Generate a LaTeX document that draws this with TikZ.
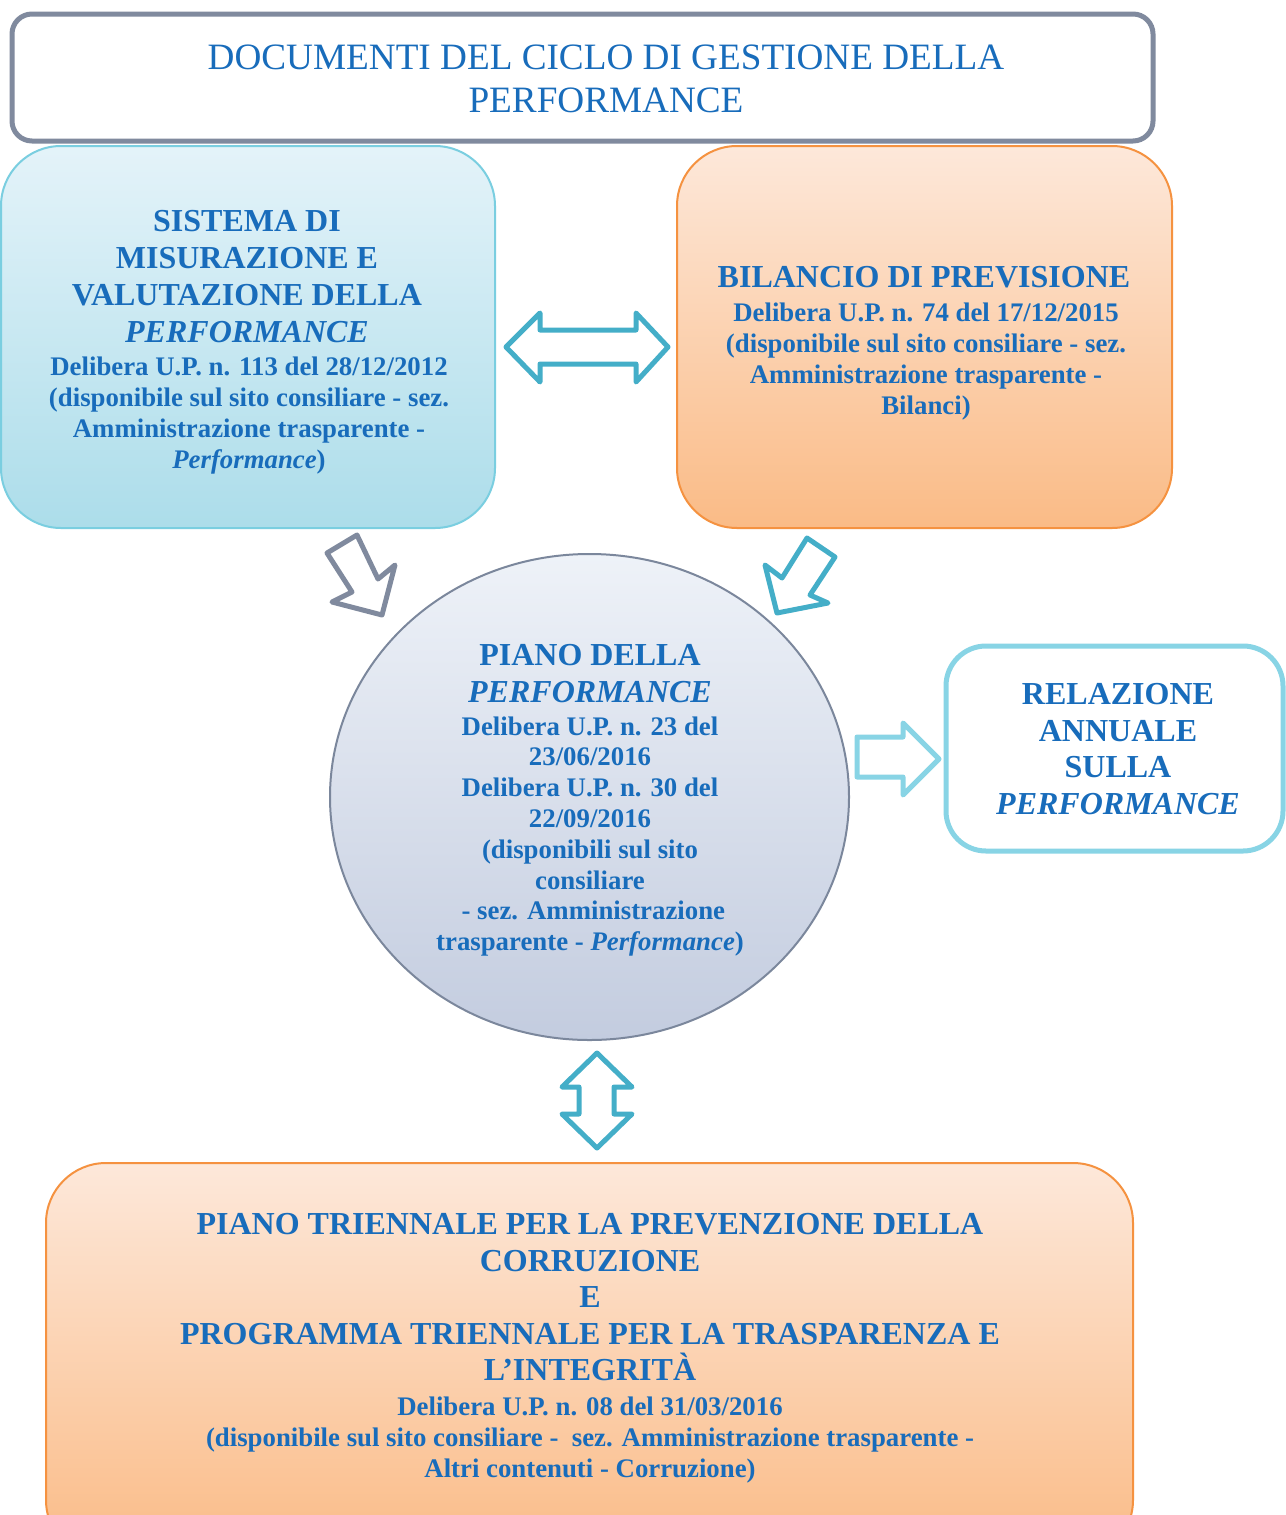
\documentclass[tikz,border=0pt]{standalone}
\usepackage{fontspec}
\setmainfont{Liberation Serif}
\usetikzlibrary{shapes.geometric}
\definecolor{txtblue}{RGB}{24,108,187}
\definecolor{graybd}{RGB}{128,138,158}
\definecolor{cyanbd}{RGB}{122,206,224}
\definecolor{cyantop}{RGB}{228,243,249}
\definecolor{cyanbot}{RGB}{172,221,234}
\definecolor{orbd}{RGB}{245,146,64}
\definecolor{ortop}{RGB}{253,232,218}
\definecolor{orbot}{RGB}{250,187,134}
\definecolor{circtop}{RGB}{238,242,248}
\definecolor{circbot}{RGB}{195,204,223}
\definecolor{circbd}{RGB}{123,135,156}
\definecolor{teal}{RGB}{68,174,200}
\definecolor{lightcyan}{RGB}{136,212,229}
\tikzset{
  heading/.style={text=txtblue, align=center, inner sep=0pt, anchor=north,
    font=\bfseries\fontsize{16}{18.5}\selectfont},
  smalltxt/.style={text=txtblue, align=center, inner sep=0pt, anchor=north,
    font=\bfseries\fontsize{13.4}{15.5}\selectfont},
  blockarrow/.style={line width=2.5pt, line join=round, fill=white},
}
\begin{document}
\begin{tikzpicture}[x=0.5pt,y=-0.5pt]
\useasboundingbox (0,0) rectangle (1285,1515);
\fill[white] (0,0) rectangle (1285,1515);

% title
\node[draw=graybd, line width=2.5pt, rounded corners=10pt, minimum width=570.5pt,
  minimum height=63.5pt, inner sep=0pt] (titlebox) at (582.5,77.5) {};
\node[text=txtblue, align=center, inner sep=0pt, anchor=north,
  font=\fontsize{18.6}{21.5}\selectfont] (titletxt) at (606,44)
  {DOCUMENTI DEL CICLO DI GESTIONE DELLA\\PERFORMANCE};

% left box
\node[draw=cyanbd, line width=1pt, rounded corners=30pt, top color=cyantop,
  bottom color=cyanbot, minimum width=247pt, minimum height=191pt, inner sep=0pt]
  (sistema) at (248,337) {};
\node[heading] (sistemah) at (247,210)
  {SISTEMA DI\\MISURAZIONE E\\VALUTAZIONE DELLA\\\textit{PERFORMANCE}};
\node[smalltxt] (sistemas) at (249,356)
  {Delibera U.P. n. 113 del 28/12/2012\\(disponibile sul sito consiliare - sez.\\Amministrazione trasparente -\\\textit{Performance})};

% right box
\node[draw=orbd, line width=1pt, rounded corners=30pt, top color=ortop,
  bottom color=orbot, minimum width=247.5pt, minimum height=191pt, inner sep=0pt]
  (bilancio) at (924.5,337) {};
\node[heading] (bilancioh) at (924,266) {BILANCIO DI PREVISIONE};
\node[smalltxt] (bilancios) at (926,302)
  {Delibera U.P. n. 74 del 17/12/2015\\(disponibile sul sito consiliare - sez.\\Amministrazione trasparente -\\Bilanci)};

% circle
\node[ellipse, draw=circbd, line width=1pt, top color=circtop, bottom color=circbot,
  minimum width=259.5pt, minimum height=243pt, inner sep=0pt] (piano) at (589.5,797) {};
\node[heading] (pianoh) at (590,644) {PIANO DELLA\\\textit{PERFORMANCE}};
\node[smalltxt, font=\bfseries\fontsize{13.4}{15.4}\selectfont] (pianos) at (590,716)
  {Delibera U.P. n. 23 del\\23/06/2016\\Delibera U.P. n. 30 del\\22/09/2016\\(disponibili sul sito\\consiliare\\\mbox{}\ - sez. Amministrazione\\trasparente - \textit{Performance})};

% relazione
\node[draw=lightcyan, line width=2.5pt, rounded corners=20pt, fill=white,
  minimum width=168.5pt, minimum height=102.5pt, inner sep=0pt] (relazione) at (1114.5,748.5) {};
\node[heading, font=\bfseries\fontsize{16}{18.35}\selectfont] (relazioneh) at (1118,683)
  {RELAZIONE\\ANNUALE\\SULLA\\\textit{PERFORMANCE}};

% bottom box
\node[draw=orbd, line width=1pt, rounded corners=30pt, top color=ortop,
  bottom color=orbot, minimum width=543.5pt, minimum height=198.5pt, inner sep=0pt]
  (triennale) at (589.5,1361.5) {};
\node[heading, font=\bfseries\fontsize{16}{18.25}\selectfont] (triennaleh) at (590,1213)
  {PIANO TRIENNALE PER LA PREVENZIONE DELLA\\CORRUZIONE\\E\\PROGRAMMA TRIENNALE PER LA TRASPARENZA E\\L’INTEGRITÀ};
\node[smalltxt] (triennales) at (590,1396)
  {Delibera U.P. n. 08 del 31/03/2016\\(disponibile sul sito consiliare - \ sez. Amministrazione trasparente -\\Altri contenuti - Corruzione)};

% horizontal double arrow
\draw[blockarrow, draw=teal] (506,347) -- (540,313) -- (540,330) -- (636,330) -- (636,313)
  -- (668,347) -- (636,382) -- (636,364) -- (540,364) -- (540,382) -- cycle;
% gray arrow down-right
\draw[blockarrow, draw=graybd] (357,535) -- (327,553) -- (352,592) -- (332,602)
  -- (382,615) -- (395,565) -- (378,579) -- cycle;
% teal arrow down-left
\draw[blockarrow, draw=teal] (807,538) -- (835,557) -- (810,595) -- (828,603)
  -- (777,613) -- (765,565) -- (782,578) -- cycle;
% right arrow
\draw[blockarrow, draw=lightcyan] (857,737) -- (903,737) -- (903,723) -- (939,759)
  -- (903,795) -- (903,777) -- (857,777) -- cycle;
% vertical double arrow
\draw[blockarrow, draw=teal] (597,1053) -- (632,1087) -- (614,1087) -- (614,1114)
  -- (632,1114) -- (597,1148) -- (562,1114) -- (579,1114) -- (579,1087) -- (562,1087) -- cycle;
\end{tikzpicture}
\end{document}
